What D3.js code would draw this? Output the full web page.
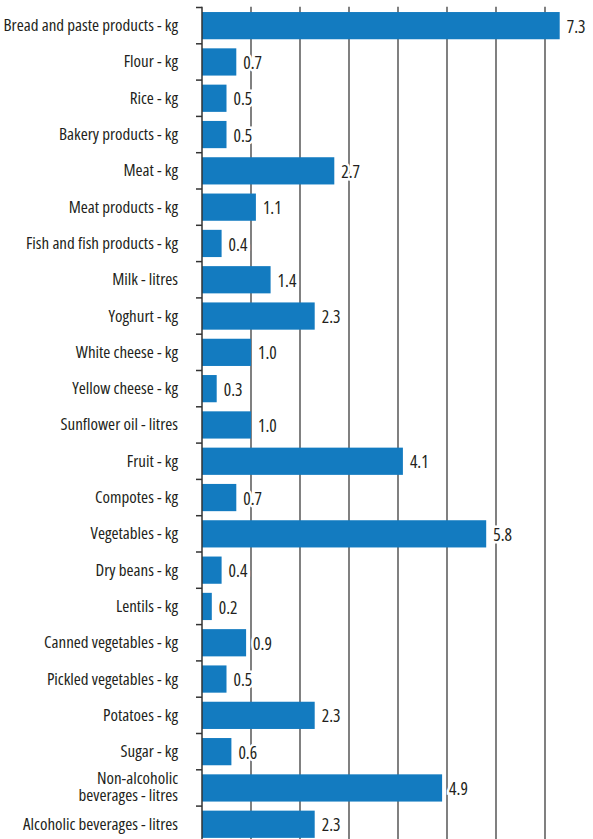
<!DOCTYPE html>
<html><head><meta charset="utf-8">
<script src="https://cdn.jsdelivr.net/npm/d3@7/dist/d3.min.js"></script>
<style>
html,body{margin:0;padding:0;background:#fff;}
svg{display:block;}
text{font-family:'Open Sans',sans-serif;font-stretch:75%;fill:#231f20;}
</style></head>
<body>
<script>
const categories = [
  "Bread and paste products - kg","Flour - kg","Rice - kg","Bakery products - kg","Meat - kg",
  "Meat products - kg","Fish and fish products - kg","Milk - litres","Yoghurt - kg","White cheese - kg",
  "Yellow cheese - kg","Sunflower oil - litres","Fruit - kg","Compotes - kg","Vegetables - kg",
  "Dry beans - kg","Lentils - kg","Canned vegetables - kg","Pickled vegetables - kg","Potatoes - kg",
  "Sugar - kg","Non-alcoholic\nbeverages - litres","Alcoholic beverages - litres"
];
const values = [7.3,0.7,0.5,0.5,2.7,1.1,0.4,1.4,2.3,1.0,0.3,1.0,4.1,0.7,5.8,0.4,0.2,0.9,0.5,2.3,0.6,4.9,2.3];
const gridTicks = [1,2,3,4,5,6,7,8];

const W = 593, H = 839;
const svg = d3.select("body").append("svg").attr("width", W).attr("height", H);

const x = d3.scaleLinear().domain([0, 8]).range([202, 594]);
const y = d3.scaleBand().domain(categories).range([7.5, 842.4]).paddingInner(0.25).paddingOuter(0.125);
const step = y.step();
const plotTop = 6.7;

// gridlines
svg.append("g").selectAll("line").data(gridTicks).join("line")
  .attr("x1", d => x(d)).attr("x2", d => x(d))
  .attr("y1", plotTop).attr("y2", H)
  .attr("stroke", "#3d3d3d").attr("stroke-width", 1.3);

// bars
svg.append("g").selectAll("rect").data(values).join("rect")
  .attr("x", x(0)).attr("y", (d, i) => y(categories[i]))
  .attr("width", d => x(d) - x(0)).attr("height", y.bandwidth())
  .attr("fill", "#137bc0");

// axis line and ticks
svg.append("line").attr("x1", x(0)).attr("x2", x(0)).attr("y1", plotTop).attr("y2", H)
  .attr("stroke", "#333").attr("stroke-width", 1.5);
const boundaries = categories.map(c => y(c) - step * 0.125);
svg.append("g").selectAll("line").data(boundaries).join("line")
  .attr("x1", x(0) - 6).attr("x2", x(0)).attr("y1", d => d).attr("y2", d => d)
  .attr("stroke", "#333").attr("stroke-width", 1.5);

// category labels
const lab = svg.append("g").selectAll("text").data(categories).join("text")
  .attr("text-anchor", "end").attr("font-size", 17)
  .attr("x", 178)
  .attr("y", c => y(c) + y.bandwidth() / 2 - 0.5);
lab.each(function(c) {
  const lines = c.split("\n");
  const t = d3.select(this);
  lines.forEach((l, k) => {
    t.append("tspan").attr("x", 178)
      .attr("dy", k === 0 ? ((0.35 - (lines.length - 1) * 0.56) + "em") : "1.02em")
      .text(l);
  });
});

// value labels
svg.append("g").selectAll("text").data(values).join("text")
  .attr("x", d => x(d) + 7)
  .attr("y", (d, i) => y(categories[i]) + y.bandwidth() / 2 + 1)
  .attr("dy", "0.35em").attr("font-size", 17.5)
  .attr("stroke", "#fff").attr("stroke-width", 5).attr("paint-order", "stroke")
  .text(d => d.toFixed(1));
</script>
</body></html>
